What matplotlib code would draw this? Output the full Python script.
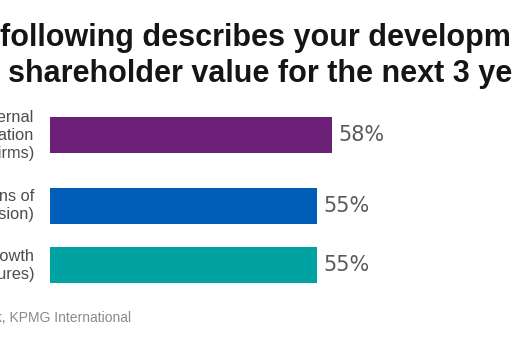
import matplotlib.pyplot as plt
import numpy as np

plt.rcParams['font.family'] = ['Liberation Sans', 'DejaVu Sans']

# data
labels = ["External\ncollaboration\n(with other firms)",
          "New regions of\n(expansion)",
          "Organic growth\n(new ventures)"]
values = [58, 55, 55]
colors = ["#6D2077", "#005EB8", "#00A3A1"]
title1 = "following describes your development strategy"
title2 = "shareholder value for the next 3 years?"
source = "Source: Global CEO Outlook, KPMG International"

W, H = 512, 341
fig = plt.figure(figsize=(W / 100, H / 100), dpi=100)

# axes spans pixel rows 100..300 from the top, x from 50 to the right edge
ax = fig.add_axes([50 / W, (H - 300) / H, 1 - 50 / W, 200 / H])
ypos = np.array([0, 1.19, 2.2])
ax.barh(ypos, values, height=0.61, color=colors)
ax.set_xlim(0, 95)
ax.set_ylim(2.79, -0.60)
ax.axis('off')

for y, v, lab in zip(ypos, values, labels):
    ax.annotate("%d%%" % v, xy=(v, y), xytext=(4.5, 0), textcoords='offset points',
                ha='left', va='center', fontsize=15, color='#595959',
                family='DejaVu Sans')
    ax.annotate(lab, xy=(0, y), xytext=(-11.5, 0), textcoords='offset points',
                ha='right', va='center', fontsize=11.8, color='#4d4d4d',
                linespacing=1.25, annotation_clip=False)

fig.text(0.0, 1 - 46 / H, title1, fontsize=22, fontweight='bold',
         color='#151515', ha='left', va='baseline')
fig.text(8 / W, 1 - 82 / H, title2, fontsize=22, fontweight='bold',
         color='#151515', ha='left', va='baseline')
fig.text(131 / W, 1 - 318 / H, source, fontsize=10, color='#8a8a8a',
         ha='right', va='center')

fig.savefig("out.png", dpi=100)
